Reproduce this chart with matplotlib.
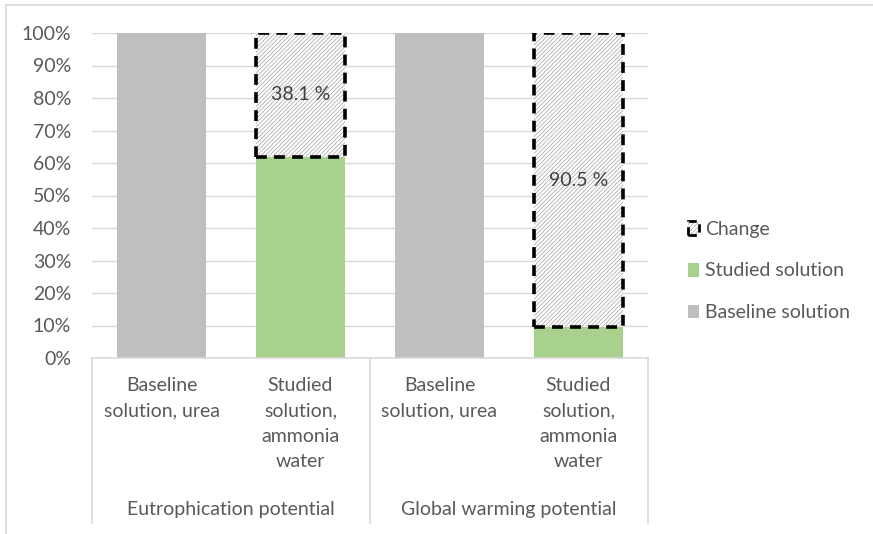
import matplotlib.pyplot as plt
from matplotlib.patches import Patch
from matplotlib.lines import Line2D
import matplotlib.transforms as mtransforms

plt.rcParams['font.family'] = ['Lato', 'DejaVu Sans']
plt.rcParams['hatch.linewidth'] = 0.6

categories = ["Baseline\nsolution, urea", "Studied\nsolution,\nammonia\nwater",
              "Baseline\nsolution, urea", "Studied\nsolution,\nammonia\nwater"]
groups = ["Eutrophication potential", "Global warming potential"]
baseline = [1.0, 0.0, 1.0, 0.0]
studied = [0.0, 0.619, 0.0, 0.095]
change = [0.0, 0.381, 0.0, 0.905]
change_labels = ["", "38.1 %", "", "90.5 %"]

W, H = 873, 534
fig = plt.figure(figsize=(W / 100, H / 100), dpi=100)
ax = fig.add_axes([92 / W, (H - 358) / H, (648 - 92) / W, (358 - 33) / H])

txt = '#595959'
fs = 14
dash = (0, (3, 2))
hatch = '////////'
x = list(range(len(categories)))
ax.bar(x, baseline, width=0.64, color='#bfbfbf', label='Baseline solution', zorder=2)
ax.bar(x, studied, width=0.64, color='#a9d18e', label='Studied solution', zorder=2)
for i in x:
    if change[i] > 0:
        # hatch layer in light gray, then dashed outline on top
        ax.bar(i, change[i], bottom=studied[i], width=0.64, facecolor='white',
               edgecolor='#b0b0b0', hatch=hatch, linewidth=0, zorder=3)
        ax.bar(i, change[i], bottom=studied[i], width=0.64, fill=False,
               edgecolor='black', linestyle=dash, linewidth=2.6, zorder=4)
        ax.text(i, studied[i] + change[i] / 2, change_labels[i], ha='center', va='center',
                fontsize=fs, color='#404040', zorder=5)

ax.set_xlim(-0.5, 3.5)
ax.set_ylim(0, 1)
ax.set_yticks([i / 10 for i in range(11)])
ax.set_yticklabels([f"{i * 10}%" for i in range(11)], fontsize=fs, color=txt)
ax.tick_params(axis='y', length=0, pad=15)
ax.set_xticks([])
ax.grid(axis='y', color='#d9d9d9', linewidth=1, zorder=0)
for s in ['top', 'right', 'left']:
    ax.spines[s].set_visible(False)
ax.spines['bottom'].set_color('#d9d9d9')
ax.spines['bottom'].set_linewidth(1.2)

trans = mtransforms.blended_transform_factory(ax.transData, ax.transAxes)
yb = -(523 - 358) / (358 - 33)
for xv in [-0.5, 1.5, 3.5]:
    ax.add_line(Line2D([xv, xv], [0, yb], transform=trans, color='#d9d9d9',
                       linewidth=1.2, clip_on=False))

ytop = -(377 - 358) / (358 - 33)
for i, c in enumerate(categories):
    ax.text(i, ytop, c, transform=trans, ha='center', va='top', fontsize=fs,
            color=txt, linespacing=1.6)
ygrp = -(509 - 358) / (358 - 33)
for g, name in enumerate(groups):
    ax.text(2 * g + 0.5, ygrp, name, transform=trans, ha='center', va='center',
            fontsize=fs, color=txt)

change_handle = (Patch(facecolor='white', edgecolor='#b0b0b0', hatch=hatch, linewidth=0),
                 Patch(fill=False, edgecolor='black', linestyle=dash, linewidth=2.0))
handles = [change_handle,
           Patch(facecolor='#a9d18e'),
           Patch(facecolor='#bfbfbf')]
labels = ['Change', 'Studied solution', 'Baseline solution']
leg = fig.legend(handles, labels, loc='center left', bbox_to_anchor=(670 / W, (H - 271) / H),
                 frameon=False, fontsize=fs, labelcolor=txt, handlelength=0.6,
                 handleheight=0.7, handletextpad=0.3, labelspacing=1.28)

# chart area border
fig.add_artist(Line2D([6 / W, 1], [1 - 5 / H, 1 - 5 / H], transform=fig.transFigure,
                      color='#d9d9d9', linewidth=1.2))
fig.add_artist(Line2D([6 / W, 6 / W], [0, 1 - 5 / H], transform=fig.transFigure,
                      color='#d9d9d9', linewidth=1.2))

fig.savefig('out.png', dpi=100, facecolor='white')
